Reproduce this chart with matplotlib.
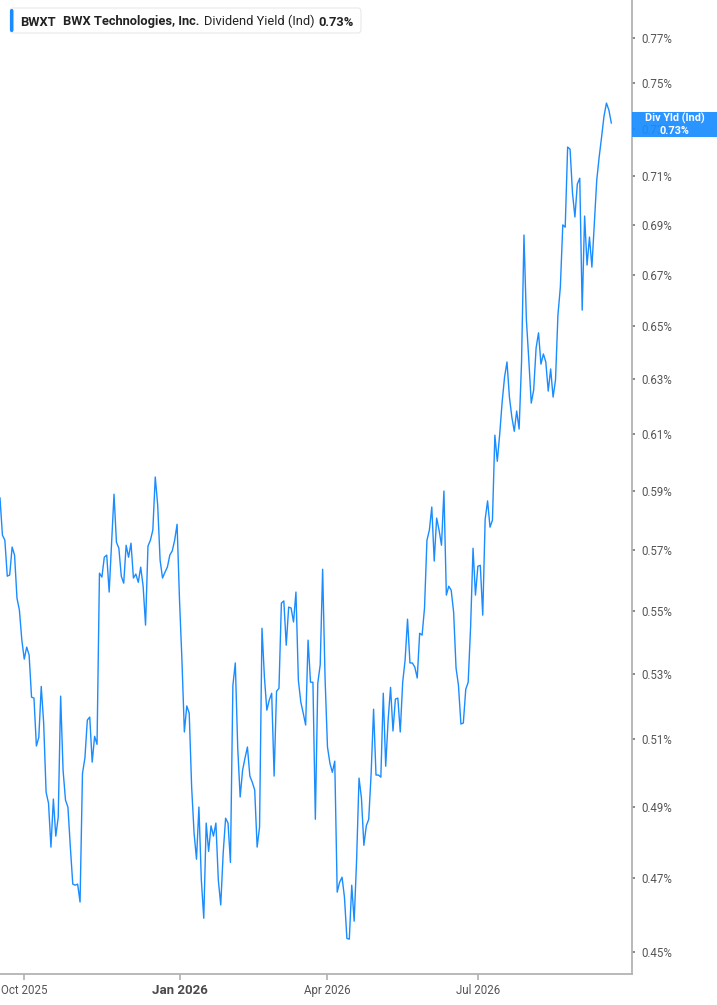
import numpy as np
import pandas as pd
import matplotlib
matplotlib.use("Agg")
import matplotlib.pyplot as plt
import matplotlib.ticker as mticker
from matplotlib.patches import FancyBboxPatch, Rectangle

plt.rcParams['font.family'] = ['Roboto', 'DejaVu Sans']

# NYSE trading days, Sep 17 2025 .. Sep 18 2026
holidays = ['2025-11-27', '2025-12-25', '2026-01-01', '2026-01-19', '2026-02-16',
            '2026-04-03', '2026-05-25', '2026-06-19', '2026-07-03', '2026-09-07']
dates = pd.bdate_range('2025-09-17', '2026-09-18', freq='C', holidays=holidays)

# dividend yield (%)
div_yield = [
    0.5876, 0.5749, 0.5732, 0.5612, 0.5616, 0.5709, 0.5682, 0.5540, 0.5501, 0.5405,
    0.5345, 0.5383, 0.5358, 0.5227, 0.5224, 0.5079, 0.5105, 0.5260, 0.5148, 0.4943,
    0.4911, 0.4786, 0.4923, 0.4817, 0.4871, 0.5230, 0.5007, 0.4920, 0.4900, 0.4786,
    0.4683, 0.4680, 0.4683, 0.4634, 0.4998, 0.5043, 0.5157, 0.5166, 0.5031, 0.5108,
    0.5084, 0.5622, 0.5609, 0.5675, 0.5682, 0.5560, 0.5722, 0.5889, 0.5725, 0.5705,
    0.5612, 0.5589, 0.5715, 0.5675, 0.5722, 0.5606, 0.5619, 0.5592, 0.5642, 0.5579,
    0.5453, 0.5712, 0.5732, 0.5766, 0.5949, 0.5852, 0.5665, 0.5606, 0.5625, 0.5642,
    0.5682, 0.5696, 0.5732, 0.5786, 0.5534, 0.5342, 0.5121, 0.5200, 0.5178, 0.4958,
    0.4826, 0.4752, 0.4900, 0.4694, 0.4590, 0.4854, 0.4774, 0.4846, 0.4817, 0.4854,
    0.4694, 0.4626, 0.4769, 0.4868, 0.4854, 0.4743, 0.5263, 0.5333, 0.5073, 0.4929,
    0.5007, 0.5043, 0.5076, 0.4990, 0.4972, 0.4949, 0.4786, 0.4843, 0.5443, 0.5289,
    0.5187, 0.5218, 0.5239, 0.4990, 0.5245, 0.5254, 0.5524, 0.5531, 0.5389, 0.5511,
    0.5508, 0.5463, 0.5560, 0.5279, 0.5212, 0.5178, 0.5142, 0.5405, 0.5273, 0.5273,
    0.4865, 0.5270, 0.5327, 0.5635, 0.5286, 0.5076, 0.5028, 0.5001, 0.5034, 0.4661,
    0.4688, 0.4702, 0.4647, 0.4536, 0.4534, 0.4680, 0.4582, 0.4749, 0.4984, 0.4926,
    0.4791, 0.4846, 0.4865, 0.4998, 0.5190, 0.4993, 0.4993, 0.4987, 0.5239, 0.5019,
    0.5157, 0.5257, 0.5124, 0.5221, 0.5224, 0.5121, 0.5273, 0.5342, 0.5472, 0.5333,
    0.5333, 0.5320, 0.5286, 0.5427, 0.5421, 0.5508, 0.5732, 0.5766, 0.5845, 0.5662,
    0.5807, 0.5766, 0.5715, 0.5900, 0.5550, 0.5579, 0.5566, 0.5495, 0.5317, 0.5263,
    0.5145, 0.5148, 0.5251, 0.5273, 0.5447, 0.5705, 0.5550, 0.5645, 0.5648, 0.5485,
    0.5803, 0.5866, 0.5776, 0.5800, 0.6097, 0.6004, 0.6101, 0.6217, 0.6309, 0.6365,
    0.6235, 0.6162, 0.6111, 0.6184, 0.6119, 0.6365, 0.6858, 0.6524, 0.6372, 0.6213,
    0.6261, 0.6418, 0.6475, 0.6357, 0.6395, 0.6365, 0.6257, 0.6339, 0.6235, 0.6298,
    0.6543, 0.6652, 0.6899, 0.6890, 0.7222, 0.7213, 0.7030, 0.6931, 0.7067, 0.7091,
    0.6562, 0.6935, 0.6738, 0.6850, 0.6730, 0.6907, 0.7083, 0.7180, 0.7265, 0.7355,
    0.7411, 0.7381, 0.7325,
]

y_ticks = [0.45, 0.47, 0.49, 0.51, 0.53, 0.55, 0.57, 0.59, 0.61, 0.63,
           0.65, 0.67, 0.69, 0.71, 0.73, 0.75, 0.77]
x_ticks = ['2025-10-01', '2026-01-01', '2026-04-01', '2026-07-01']
x_labels = ['Oct 2025', 'Jan 2026', 'Apr 2026', 'Jul 2026']

ticker = 'BWXT'
company = 'BWX Technologies, Inc.'
metric = 'Dividend Yield (Ind)'
last_val = div_yield[-1]

BLUE = '#1a8cff'
W, H = 717, 1005

def fx(x):
    return x / W

def fy(y):
    return 1 - y / H

fig = plt.figure(figsize=(W / 100, H / 100), dpi=100)
ax = fig.add_axes([0, fy(974), fx(632), fy(0) - fy(974)])

# trading-day axis (evenly spaced sessions)
n = min(len(dates), len(div_yield))
idx = np.arange(n)
ax.plot(idx, div_yield[:n], color=BLUE, lw=1.0)

ax.set_yscale('log')
ax.set_ylim(0.4442, 0.7874)
ax.set_xlim(0, (n - 1) * 632 / 611.3)

ax.yaxis.set_major_locator(mticker.FixedLocator(y_ticks))
ax.yaxis.set_minor_locator(mticker.NullLocator())
ax.yaxis.set_major_formatter(mticker.FuncFormatter(lambda v, p: f'{v:.2f}%'))
ax.yaxis.tick_right()
ax.tick_params(axis='y', length=2.5, width=1.2, color='#777777', pad=4,
               labelsize=8.3, labelcolor='#555555')

tick_pos = dates.searchsorted(pd.to_datetime(x_ticks))
ax.set_xticks(tick_pos)
ax.set_xticklabels(x_labels)
ax.xaxis.set_minor_locator(mticker.NullLocator())
ax.tick_params(axis='x', length=4, width=1.2, color='#b0b0b0', pad=3,
               labelsize=8.3, labelcolor='#555555')
for lbl in ax.get_xticklabels():
    if lbl.get_text().startswith('Jan'):
        lbl.set_fontweight('bold')
        lbl.set_fontsize(9.5)
        lbl.set_color('#4a4a4a')

for s in ['top', 'left']:
    ax.spines[s].set_visible(False)
for s in ['right', 'bottom']:
    ax.spines[s].set_color('#b3b3b3')
    ax.spines[s].set_linewidth(1.3)

# legend box at top left
box = FancyBboxPatch((fx(10), fy(33)), fx(351), fy(8) - fy(33),
                     boxstyle='round,pad=0,rounding_size=0.004',
                     transform=fig.transFigure, facecolor='white',
                     edgecolor='#e8e8e8', lw=0.8, zorder=5)
fig.patches.append(box)
bar = FancyBboxPatch((fx(10), fy(32)), fx(3.5), fy(9) - fy(32),
                     boxstyle='round,pad=0,rounding_size=0.002',
                     transform=fig.transFigure, facecolor=BLUE,
                     edgecolor='none', zorder=6)
fig.patches.append(bar)

txt_kw = dict(fontsize=9.3, color='#222222', va='baseline', ha='left', zorder=7)
fig.text(fx(20), fy(25.5), ticker, fontweight='bold', **txt_kw)
fig.text(fx(63), fy(25.5), company, fontweight='bold', **txt_kw)
fig.text(fx(204), fy(25.5), metric, **txt_kw)
fig.text(fx(318), fy(25.5), f'{last_val:.2f}%', fontweight='bold', **txt_kw)

# last value tag on the right axis
tag = Rectangle((fx(632), fy(137.3)), fx(85), fy(111.7) - fy(137.3),
                transform=fig.transFigure, facecolor=BLUE, alpha=0.93,
                edgecolor='none', zorder=8)
fig.patches.append(tag)
fig.text(fx(674.5), fy(118.6), 'Div Yld (Ind)', color='white', fontsize=7.8,
         fontweight='bold', ha='center', va='center', zorder=9)
fig.text(fx(674.5), fy(130.6), f'{last_val:.2f}%', color='white', fontsize=7.8,
         fontweight='bold', ha='center', va='center', zorder=9)

fig.savefig('out.png', dpi=100)
